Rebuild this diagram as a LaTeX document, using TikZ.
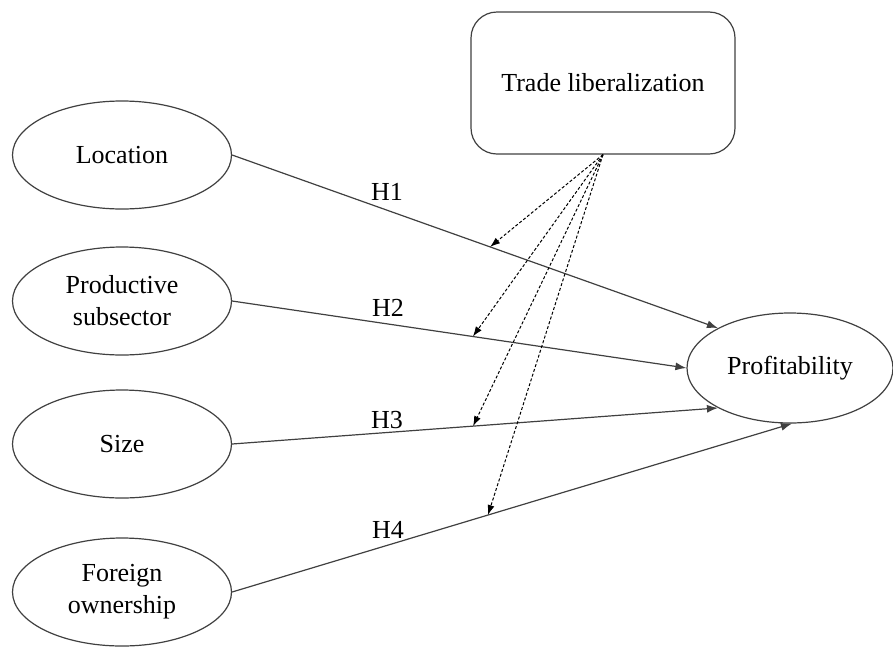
\documentclass[tikz,border=0pt]{standalone}
\usepackage{fontspec}
\setmainfont{Liberation Serif}
\usetikzlibrary{shapes.geometric,arrows.meta}

\newlength{\du}
\setlength{\du}{1pt}
\definecolor{dialinecolor}{rgb}{0.250000, 0.250000, 0.250000}

\tikzset{
  factor/.style={ellipse,draw=dialinecolor,line width=1.2\du,
    minimum width=219\du,minimum height=108\du,inner sep=0pt,
    align=center,font=\fontsize{26}{32}\selectfont},
  moderator/.style={rectangle,rounded corners=26\du,draw=dialinecolor,
    line width=1.2\du,minimum width=264\du,minimum height=142\du,
    font=\fontsize{26}{32}\selectfont},
  hlabel/.style={font=\fontsize{26}{32}\selectfont,inner sep=0pt},
  effect/.style={draw=dialinecolor,line width=1.2\du,
    -{Latex[length=11pt,width=8pt]}},
  interact/.style={draw=black,line width=1\du,dash pattern=on 3\du off 2\du,
    -{Latex[length=10pt,width=7pt]}}
}

\begin{document}
\begin{tikzpicture}[x=1\du,y=-1\du]
\useasboundingbox (0,0) rectangle (893,646);
% factors
\node[factor] (loc) at (122,155) {Location};
\node[factor] (prod) at (122,301) {Productive\\subsector};
\node[factor] (size) at (122,444) {Size};
\node[factor] (fown) at (122,592) {Foreign\\ownership};
\node[factor,minimum width=206\du,minimum height=110\du] (prof) at (790,368) {Profitability};
\node[moderator] (trade) at (603,83) {Trade liberalization};
% hypotheses
\draw[effect] (loc.east) -- coordinate[pos=0.531] (m1) (prof.151);
\draw[effect] (prod.east) -- coordinate[pos=0.53] (m2) (prof.west);
\draw[effect] (size.east) -- coordinate[pos=0.496] (m3) (prof.209);
\draw[effect] (fown.east) -- coordinate[pos=0.457] (m4) (prof.272);
\node[hlabel] (h1) at (387,192) {H1};
\node[hlabel] (h2) at (388,308) {H2};
\node[hlabel] (h3) at (387,420) {H3};
\node[hlabel] (h4) at (388,530) {H4};
% moderation
\draw[interact] (trade.south) -- (m1);
\draw[interact] (trade.south) -- (m2);
\draw[interact] (trade.south) -- (m3);
\draw[interact] (trade.south) -- (m4);
\end{tikzpicture}
\end{document}
